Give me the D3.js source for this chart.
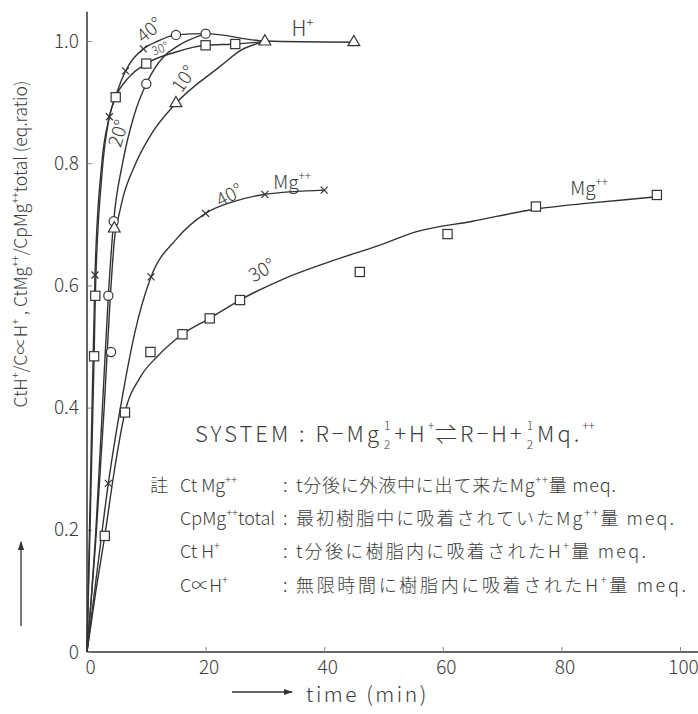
<!DOCTYPE html>
<html>
<head>
<meta charset="utf-8">
<script src="https://cdn.jsdelivr.net/npm/d3@7"></script>
<style>
  body { margin: 0; background: #fff; }
  svg { display: block; }
  text { font-family: "Noto Sans CJK JP", "Noto Sans", sans-serif; font-weight: 300; fill: #3c3c3c; }
</style>
</head>
<body>
<svg width="698" height="714"></svg>
<script>
// tick labels
var xTicks = [0, 20, 40, 60, 80, 100];
var yTicks = [0, 0.2, 0.4, 0.6, 0.8, 1.0];

// measured points  [time (min), ratio]
var h40Pts = [[1.35, 0.617], [3.77, 0.876], [6.5, 0.951], [9.5, 0.987]];
var h30Pts = [[1.2, 0.484], [1.4, 0.583], [4.84, 0.908], [10, 0.963], [20, 0.993], [25, 0.995]];
var h20Pts = [[3.6, 0.583], [4.05, 0.491], [4.5, 0.705], [10, 0.93], [15, 1.01], [20, 1.012]];
var h10Pts = [[4.6, 0.693], [15, 0.898], [30, 0.999], [45, 0.998]];
var mg40Pts = [[3.6, 0.276], [10.8, 0.614], [20, 0.718], [30, 0.749], [40, 0.756]];
var mg30Pts = [[3, 0.19], [6.4, 0.392], [10.7, 0.491], [16.1, 0.52], [20.7, 0.546], [25.8, 0.576],
               [46, 0.622], [60.8, 0.684], [75.7, 0.729], [96.1, 0.748]];

// hand drawn curves
var h40Curve = [[0, 0], [0.7, 0.33], [1.35, 0.617], [2.5, 0.8], [3.77, 0.876], [5, 0.915], [6.5, 0.951],
                [9.5, 0.987], [12, 1.0], [15, 1.01], [20, 1.012], [30, 1.0], [45, 0.998]];
var h30Curve = [[0, 0], [0.6, 0.24], [1.2, 0.484], [1.4, 0.583], [2.5, 0.78], [3.77, 0.876], [4.84, 0.908],
                [7, 0.94], [10, 0.963], [15, 0.982], [20, 0.993], [25, 0.995], [30, 0.999]];
var h20Curve = [[0, 0], [1.5, 0.2], [2.6, 0.4], [3.6, 0.583], [4.5, 0.705], [6, 0.8], [8, 0.88],
                [10, 0.93], [13, 0.975], [15, 0.99], [20, 1.012]];
var h10Curve = [[0, 0], [1.6, 0.2], [2.9, 0.4], [3.8, 0.56], [4.6, 0.672], [5.5, 0.72], [6.1, 0.745],
                [8, 0.795], [11, 0.85], [15, 0.898], [22.4, 0.958], [26, 0.985], [30, 0.999]];
var mg40Curve = [[0, 0], [1.8, 0.14], [3.6, 0.276], [6, 0.42], [8, 0.52], [10.8, 0.614], [15, 0.675],
                 [20, 0.718], [25, 0.738], [30, 0.749], [40, 0.756]];
var mg30Curve = [[0, 0], [1.5, 0.1], [3, 0.19], [4.5, 0.29], [6.4, 0.392], [9, 0.45], [12, 0.485],
                 [16.1, 0.52], [20.7, 0.546], [25.8, 0.576], [33, 0.61], [41, 0.639], [49.4, 0.666],
                 [55.6, 0.688], [65, 0.705], [75.7, 0.725], [85, 0.735], [91.6, 0.741], [96.1, 0.745]];

var svg = d3.select("svg");
var x = d3.scaleLinear().domain([0, 100]).range([87, 680]);
var y = d3.scaleLinear().domain([0, 1]).range([652, 41]);
var ink = "#333";

// axes
svg.append("line").attr("x1", x(0)).attr("x2", x(0)).attr("y1", y(0)).attr("y2", y(1.048))
  .attr("stroke", ink).attr("stroke-width", 1.5);
svg.append("line").attr("x1", x(0)).attr("x2", 698).attr("y1", y(0)).attr("y2", y(0))
  .attr("stroke", ink).attr("stroke-width", 1.5);

var gx = svg.append("g").attr("transform", "translate(0," + y(0) + ")")
  .call(d3.axisBottom(x).tickValues(xTicks).tickSize(-5).tickPadding(8));
var gy = svg.append("g").attr("transform", "translate(" + x(0) + ",0)")
  .call(d3.axisLeft(y).tickValues(yTicks).tickSize(-5).tickPadding(8)
    .tickFormat(function(d) { return d === 0 ? "0" : d.toFixed(1); }));
[gx, gy].forEach(function(g) {
  g.select(".domain").remove();
  g.selectAll(".tick line").attr("stroke", "#888").attr("stroke-width", 1);
  g.selectAll(".tick text").style("font-size", "19px").attr("fill", "#444")
    .style("font-family", "'Noto Sans CJK JP', sans-serif").style("font-weight", 300);
});
gx.selectAll(".tick text").attr("dx", 3);

// curves
var line = d3.line().x(function(d) { return x(d[0]); }).y(function(d) { return y(d[1]); })
  .curve(d3.curveMonotoneX);
[h40Curve, h30Curve, h20Curve, h10Curve, mg40Curve, mg30Curve].forEach(function(c) {
  svg.append("path").datum(c).attr("d", line).attr("fill", "none")
    .attr("stroke", ink).attr("stroke-width", 1.4);
});

// markers
function square(pts) {
  svg.append("g").selectAll("rect").data(pts).enter().append("rect")
    .attr("x", function(d) { return x(d[0]) - 4.6; }).attr("y", function(d) { return y(d[1]) - 4.6; })
    .attr("width", 9.2).attr("height", 9.2).attr("fill", "#fff").attr("stroke", ink).attr("stroke-width", 1.2);
}
function circle(pts) {
  svg.append("g").selectAll("circle").data(pts).enter().append("circle")
    .attr("cx", function(d) { return x(d[0]); }).attr("cy", function(d) { return y(d[1]); })
    .attr("r", 4.6).attr("fill", "#fff").attr("stroke", ink).attr("stroke-width", 1.2);
}
function triangle(pts) {
  svg.append("g").selectAll("path").data(pts).enter().append("path")
    .attr("d", d3.symbol(d3.symbolTriangle, 60))
    .attr("transform", function(d) { return "translate(" + x(d[0]) + "," + y(d[1]) + ")"; })
    .attr("fill", "#fff").attr("stroke", ink).attr("stroke-width", 1.2);
}
function cross(pts) {
  svg.append("g").selectAll("path").data(pts).enter().append("path")
    .attr("d", "M-3.5,-3.5L3.5,3.5M-3.5,3.5L3.5,-3.5")
    .attr("transform", function(d) { return "translate(" + x(d[0]) + "," + y(d[1]) + ")"; })
    .attr("fill", "none").attr("stroke", ink).attr("stroke-width", 1.2);
}
cross(h40Pts); square(h30Pts); circle(h20Pts); triangle(h10Pts);
cross(mg40Pts); square(mg30Pts);

// text with superscripts: parts = [[text, isSup]]
function rich(sel, parts, fs) {
  var cur = 0;
  parts.forEach(function(p) {
    var want = p[1] ? -0.45 * fs : 0;
    var t = sel.append("tspan").attr("dy", want - cur).text(p[0]);
    if (p[1]) t.style("font-size", (0.62 * fs) + "px");
    cur = want;
  });
  return sel;
}

// curve labels (anchored in data units)
var curveLabels = [
  { parts: [["40°"]], at: [10.3, 1.021], rot: -40, fs: 19 },
  { parts: [["30°"]], at: [12.2, 0.99], rot: -22, fs: 12 },
  { parts: [["20°"]], at: [4.9, 0.85], rot: -72, fs: 19 },
  { parts: [["10°"]], at: [16, 0.94], rot: -55, fs: 19 },
  { parts: [["40°"]], at: [23.8, 0.751], rot: -28, fs: 19 },
  { parts: [["30°"]], at: [29.3, 0.628], rot: -30, fs: 19 }
];
curveLabels.forEach(function(l) {
  var t = svg.append("text").attr("text-anchor", "middle").attr("dominant-baseline", "central")
    .attr("transform", "translate(" + x(l.at[0]) + "," + y(l.at[1]) + ") rotate(" + l.rot + ")")
    .style("font-size", l.fs + "px");
  rich(t, l.parts, l.fs);
});
var ionLabels = [
  { parts: [["H"], ["+", 1]], at: [34.5, 1.008], fs: 21 },
  { parts: [["Mg"], ["++", 1]], at: [31.4, 0.758], fs: 19 },
  { parts: [["Mg"], ["++", 1]], at: [81.5, 0.748], fs: 19 }
];
ionLabels.forEach(function(l) {
  var t = svg.append("text").attr("x", x(l.at[0])).attr("y", y(l.at[1])).style("font-size", l.fs + "px");
  rich(t, l.parts, l.fs);
});

// reaction formula, one text element: main runs, superscripts and stacked 1/2
var sys = svg.append("text").attr("x", 195).attr("y", 442)
  .style("font-size", "22px").style("letter-spacing", "3px");
var level = 0;
function run(txt, opt) {
  opt = opt || {};
  var want = opt.up || 0;
  var t = sys.append("tspan").attr("dy", want - level).text(txt);
  if (opt.dx) t.attr("dx", opt.dx);
  if (opt.fs) t.style("font-size", opt.fs + "px").style("letter-spacing", "0px");
  level = want;
  return t;
}
function frac() {
  var one = run("1", { up: -12.5, fs: 12, dx: 2 });
  var w = one.node().getComputedTextLength();
  run("2", { up: 6.5, fs: 12, dx: -w });
}
run("SYSTEM\u00a0:\u00a0R−Mg");
frac();
run("+H", { dx: 4 });
run("+", { up: -12, fs: 12 });
run("⇌R−H+", { dx: 1 });
frac();
run("Mq.", { dx: 4 });
run("++", { up: -12, fs: 12 });

// notes
var notes = [
  { key: [["Ct Mg"], ["++", 1]], desc: [["t分後に外液中に出て来たMg"], ["++", 1], ["量 meq."]] },
  { key: [["CpMg"], ["++", 1], ["total"]], desc: [["最初樹脂中に吸着されていたMg"], ["++", 1], ["量 meq."]] },
  { key: [["Ct H"], ["+", 1]], desc: [["t分後に樹脂内に吸着されたH"], ["+", 1], ["量 meq."]] },
  { key: [["C∝H"], ["+", 1]], desc: [["無限時間に樹脂内に吸着されたH"], ["+", 1], ["量 meq."]] }
];
var noteY = [492, 525, 558, 592];
var descLen = [320, 378, 350, 390];
svg.append("text").attr("x", 150).attr("y", noteY[0]).style("font-size", "18px").text("註");
notes.forEach(function(n, i) {
  rich(svg.append("text").attr("x", 180).attr("y", noteY[i]).style("font-size", "18px"), n.key, 18);
  svg.append("text").attr("x", 283).attr("y", noteY[i]).style("font-size", "18px").text(":");
  rich(svg.append("text").attr("x", 296).attr("y", noteY[i]).style("font-size", "18px")
    .attr("textLength", descLen[i]), n.desc, 18);
});

// axis titles
var yt = svg.append("text").attr("text-anchor", "middle")
  .attr("transform", "translate(27,244) rotate(-90)").style("font-size", "17.5px");
rich(yt, [["CtH"], ["+", 1], ["/C∝H"], ["+", 1], [" , CtMg"], ["++", 1], ["/CpMg"], ["++", 1],
          ["total (eq.ratio)"]], 17.5);
var defs = svg.append("defs");
defs.append("marker").attr("id", "ah").attr("viewBox", "0 0 10 10").attr("refX", 9).attr("refY", 5)
  .attr("markerWidth", 7).attr("markerHeight", 7).attr("orient", "auto")
  .append("path").attr("d", "M0,1.5L10,5L0,8.5Z").attr("fill", ink);
svg.append("line").attr("x1", 21).attr("x2", 21).attr("y1", 626).attr("y2", 542)
  .attr("stroke", ink).attr("stroke-width", 1.3).attr("marker-end", "url(#ah)");
svg.append("line").attr("x1", 232).attr("x2", 292).attr("y1", 692).attr("y2", 692)
  .attr("stroke", ink).attr("stroke-width", 1.3).attr("marker-end", "url(#ah)");
svg.append("text").attr("x", 306).attr("y", 702).style("font-size", "21px")
  .style("letter-spacing", "2.5px").text("time (min)");
</script>
</body>
</html>
